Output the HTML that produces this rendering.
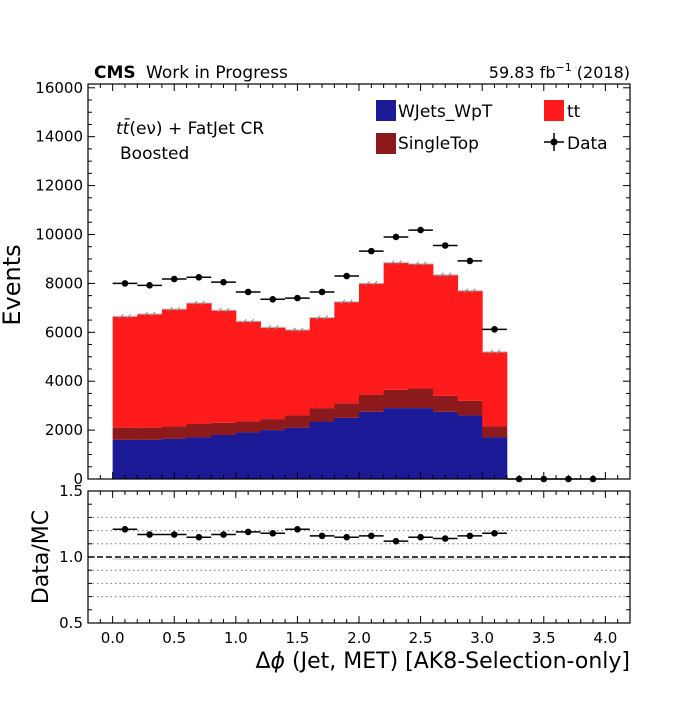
<!DOCTYPE html>
<html><head><meta charset="utf-8">
<style>
body{margin:0;background:#fff;}
svg text{font-family:"DejaVu Sans","Liberation Sans",sans-serif;fill:#000;}
</style></head>
<body>
<svg id="c" width="700" height="700" xmlns="http://www.w3.org/2000/svg"></svg>
<script>
const binEdgesStart = [0,0.2,0.4,0.6,0.8,1.0,1.2,1.4,1.6,1.8,2.0,2.2,2.4,2.6,2.8,3.0];
const wjets = [1600,1600,1650,1700,1800,1900,2000,2100,2350,2500,2750,2900,2900,2750,2600,1700];
const singletop = [500,500,500,550,500,450,450,500,550,600,700,750,800,650,600,450];
const ttbar = [4550,4650,4800,4950,4600,4100,3750,3500,3700,4150,4550,5200,5100,4950,4500,3050];
const dataX = [0.1,0.3,0.5,0.7,0.9,1.1,1.3,1.5,1.7,1.9,2.1,2.3,2.5,2.7,2.9,3.1,3.3,3.5,3.7,3.9];
const dataY = [8000,7920,8180,8250,8050,7650,7350,7400,7650,8300,9320,9900,10180,9550,8920,6120,0,0,0,0];
const ratio = [1.21,1.17,1.17,1.15,1.17,1.19,1.18,1.21,1.16,1.15,1.16,1.12,1.15,1.14,1.16,1.18];
const xTicks = [0.0,0.5,1.0,1.5,2.0,2.5,3.0,3.5,4.0];
const yTicks = [0,2000,4000,6000,8000,10000,12000,14000,16000];
const rTicks = [0.5,1.0,1.5];

const NS="http://www.w3.org/2000/svg", svg=document.getElementById('c');
function el(t,a,p){const e=document.createElementNS(NS,t);for(const k in a)e.setAttribute(k,a[k]);(p||svg).appendChild(e);return e;}
const L=88,R=630,T=84,B=479,RT=491,RB=623;
const X=v=>L+(v+0.2)/4.4*(R-L);
const Y=v=>B-v/16155*(B-T);
const RY=v=>RB-(v-0.5)/1.0*(RB-RT);
const W=0.2;

for(let i=0;i<binEdgesStart.length;i++){
  const x0=X(binEdgesStart[i]),x1=X(binEdgesStart[i]+W);
  let base=0;
  [[wjets,'#1b1996','bar-wjets'],[singletop,'#8c1a1c','bar-singletop'],[ttbar,'#ff1b1b','bar-tt']].forEach(([arr,col,nm])=>{
    const v=arr[i];
    const r=el('rect',{x:x0,y:Y(base+v),width:x1-x0+0.5,height:Y(base)-Y(base+v),fill:col});
    
    
    base+=v;
  });
  const yt=Y(base);
  el('line',{x1:x0,y1:yt,x2:x1,y2:yt,stroke:'#bbb','stroke-width':1});
  [0.35,0.65].forEach(f=>{const xx=x0+(x1-x0)*f;el('line',{x1:xx-2,y1:yt+2,x2:xx+2,y2:yt-2,stroke:'#888','stroke-width':1});});
}
for(let i=0;i<dataX.length;i++){
  const cx=X(dataX[i]),cy=Y(dataY[i]);
  el('line',{x1:X(dataX[i]-0.1),y1:cy,x2:X(dataX[i]+0.1),y2:cy,stroke:'#000','stroke-width':1.5});
  const c=el('circle',{cx:cx,cy:cy,r:3.3,fill:'#000'});
  
  
}
[0.7,0.8,0.9,1.1,1.2,1.3].forEach(v=>el('line',{x1:L,y1:RY(v),x2:R,y2:RY(v),stroke:'#777','stroke-width':1,'stroke-dasharray':'1.5,3'}));
el('line',{x1:X(0),y1:RY(1)+2,x2:X(3.2),y2:RY(1)+2,stroke:'#ddd','stroke-width':2});
el('line',{x1:L,y1:RY(1),x2:R,y2:RY(1),stroke:'#000','stroke-width':1.5,'stroke-dasharray':'6,3'});
for(let i=0;i<ratio.length;i++){
  const cy=RY(ratio[i]);
  el('line',{x1:X(dataX[i]-0.1),y1:cy,x2:X(dataX[i]+0.1),y2:cy,stroke:'#000','stroke-width':1.5});
  const c=el('circle',{cx:X(dataX[i]),cy:cy,r:3.3,fill:'#000'});
  
  
}
[[T,B],[RT,RB]].forEach(([t,b])=>{
  el('rect',{x:L,y:t,width:R-L,height:b-t,fill:'none',stroke:'#000','stroke-width':1.2});
  for(let v=-0.1;v<=4.2;v+=0.1){
    const vv=Math.round(v*10)/10;const maj=Math.abs(vv*2-Math.round(vv*2))<1e-6;const len=maj?7:4;
    el('line',{x1:X(vv),y1:b,x2:X(vv),y2:b-len,stroke:'#000'});
    el('line',{x1:X(vv),y1:t,x2:X(vv),y2:t+len,stroke:'#000'});
  }
});
for(let v=0;v<=16000;v+=500){const maj=v%2000==0,len=maj?7:4;
  el('line',{x1:L,y1:Y(v),x2:L+len,y2:Y(v),stroke:'#000'});el('line',{x1:R,y1:Y(v),x2:R-len,y2:Y(v),stroke:'#000'});}
for(let v=0.5;v<=1.5001;v+=0.1){const vv=Math.round(v*10)/10;const maj=[0.5,1.0,1.5].includes(vv),len=maj?7:4;
  el('line',{x1:L,y1:RY(vv),x2:L+len,y2:RY(vv),stroke:'#000'});el('line',{x1:R,y1:RY(vv),x2:R-len,y2:RY(vv),stroke:'#000'});}
function txt(s,a,nm){const e=el('text',a);e.textContent=s;return e;}
yTicks.forEach(v=>txt(String(v),{x:L-5,y:Y(v)+5,'font-size':15,'text-anchor':'end'},'y-tick-label'));
rTicks.forEach(v=>txt(v.toFixed(1),{x:L-5,y:RY(v)+5,'font-size':15,'text-anchor':'end'},'ratio-tick-label'));
xTicks.forEach(v=>txt(v.toFixed(1),{x:X(v),y:RB+20,'font-size':15,'text-anchor':'middle'},'x-tick-label'));
</script>
<svg width="700" height="700" style="position:absolute;left:0;top:0" xmlns="http://www.w3.org/2000/svg">
<text x="94" y="78" font-size="17" font-weight="bold">CMS</text>
<text x="146" y="78" font-size="17">Work in Progress</text>
<text x="630" y="78" font-size="16" text-anchor="end">59.83 fb<tspan font-size="11" dy="-7">−1</tspan><tspan dy="7"> (2018)</tspan></text>
<text x="116" y="134" font-size="17"><tspan font-style="italic">tt̄</tspan>(eν) + FatJet CR</text>
<text x="120" y="159" font-size="17">Boosted</text>
<g>
<rect x="376" y="100" width="20" height="21" fill="#1b1996"/>
<text x="398" y="117" font-size="17">WJets_WpT</text>
<rect x="376" y="133" width="20" height="21" fill="#8c1a1c"/>
<text x="398" y="149" font-size="17">SingleTop</text>
<rect x="544" y="100" width="20" height="21" fill="#ff1b1b"/>
<text x="567" y="117" font-size="17">tt</text>
<line x1="544" y1="142" x2="564" y2="142" stroke="#000" stroke-width="1.5"/>
<line x1="554" y1="133" x2="554" y2="151" stroke="#000" stroke-width="1.5"/>
<circle cx="554" cy="142" r="3.5" fill="#000"/>
<text x="567" y="149" font-size="17">Data</text>
</g>
<text transform="translate(20,285) rotate(-90)" font-size="24" text-anchor="middle">Events</text>
<text transform="translate(48,557) rotate(-90)" font-size="22" text-anchor="middle">Data/MC</text>
<text x="630" y="668" font-size="22" text-anchor="end">Δ<tspan font-style="italic">ϕ</tspan> (Jet, MET) [AK8-Selection-only]</text>
</svg>
</body></html>
